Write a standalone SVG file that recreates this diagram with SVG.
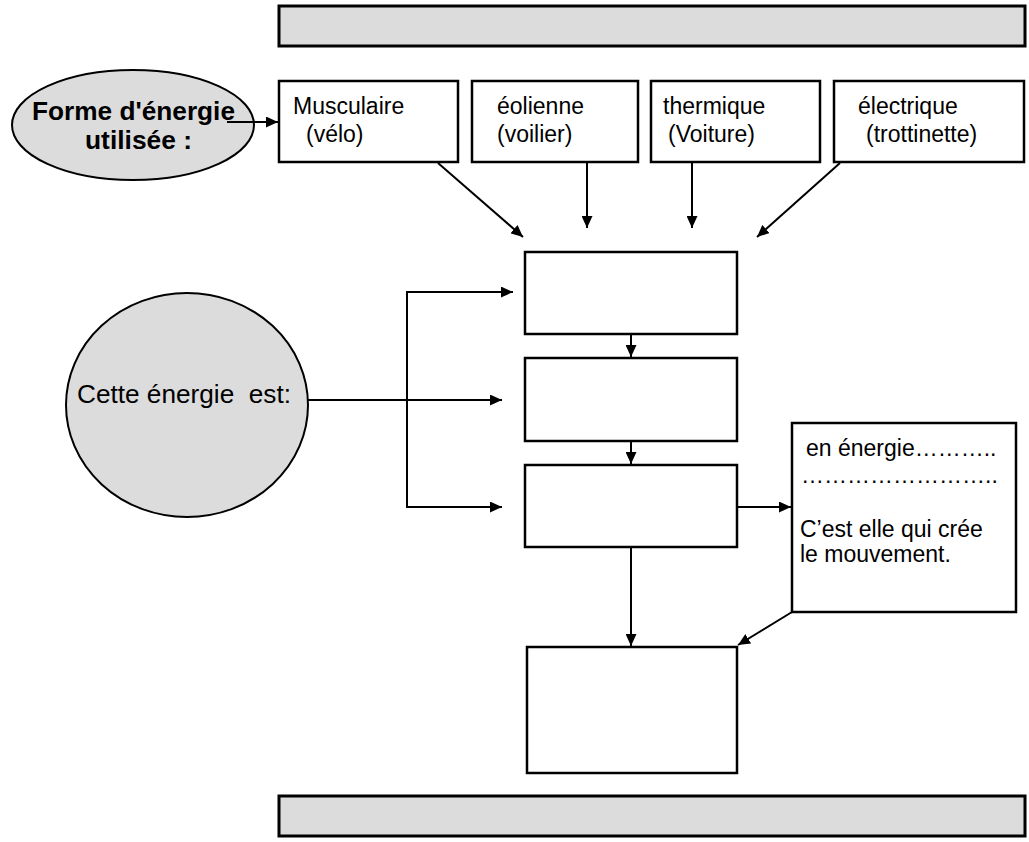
<svg xmlns="http://www.w3.org/2000/svg" width="1029" height="842" viewBox="0 0 1029 842">
<style>
.box{fill:#fff;stroke:#000;stroke-width:2.5}
.grey{fill:#dcdcdc;stroke:#000;stroke-width:2}
.bar{fill:#dcdcdc;stroke:#000;stroke-width:3}
.t{font-family:"Liberation Sans",Arial,sans-serif;font-size:23px;fill:#000}
.b{font-family:"Liberation Sans",Arial,sans-serif;font-size:25px;font-weight:bold;fill:#000}
.c{fill:none;stroke:#000;stroke-width:2}
</style>
<defs>
<marker id="ah" markerUnits="userSpaceOnUse" markerWidth="13" markerHeight="11" refX="12" refY="5.5" orient="auto">
<path d="M0,0 L12,5.5 L0,11 z" fill="#000"/>
</marker>
</defs>
<rect width="1029" height="842" fill="#fff"/>
<g id="top-bar"><rect class="bar" x="279" y="6" width="746" height="40"/></g>
<g id="forme"><ellipse class="grey" cx="133" cy="125" rx="121" ry="55"/>
<text class="b" x="32" y="120" textLength="203" lengthAdjust="spacingAndGlyphs">Forme d'énergie</text>
<text class="b" x="85" y="149" textLength="107" lengthAdjust="spacingAndGlyphs">utilisée :</text></g>
<g id="musculaire"><rect class="box" x="279" y="81" width="179" height="81"/>
<text class="t" x="293" y="114">Musculaire</text><text class="t" x="306" y="142">(vélo)</text></g>
<g id="eolienne"><rect class="box" x="472" y="81" width="166" height="81"/>
<text class="t" x="497" y="114">éolienne</text><text class="t" x="497" y="142">(voilier)</text></g>
<g id="thermique"><rect class="box" x="651" y="81" width="169" height="81"/>
<text class="t" x="663" y="114">thermique</text><text class="t" x="668" y="142">(Voiture)</text></g>
<g id="electrique"><rect class="box" x="834" y="81" width="190" height="81"/>
<text class="t" x="858" y="114">électrique</text><text class="t" x="866" y="142">(trottinette)</text></g>
<g id="cette"><ellipse class="grey" cx="187" cy="405" rx="121" ry="112"/>
<text class="t" x="77" y="403" style="font-size:26px" textLength="214" lengthAdjust="spacingAndGlyphs">Cette énergie&#160; est:</text></g>
<g id="box-a"><rect class="box" x="525" y="252" width="212" height="82"/></g>
<g id="box-b"><rect class="box" x="525" y="358" width="212" height="83"/></g>
<g id="box-c"><rect class="box" x="525" y="465" width="212" height="82"/></g>
<g id="box-d"><rect class="box" x="527" y="647" width="210" height="126"/></g>
<g id="box-energie"><rect class="box" x="792" y="423" width="224" height="189"/>
<text class="t" x="806" y="456">en énergie………..</text>
<text class="t" x="801" y="483">……………………..</text>
<text class="t" x="800" y="537">C’est elle qui crée</text>
<text class="t" x="800" y="562">le mouvement.</text></g>
<g id="bottom-bar"><rect class="bar" x="279" y="796" width="746" height="40"/></g>
<g id="connectors">
<line class="c" x1="227" y1="122" x2="278" y2="122" marker-end="url(#ah)"/>
<line class="c" x1="438" y1="163" x2="523" y2="237" marker-end="url(#ah)"/>
<line class="c" x1="587" y1="162" x2="587" y2="228" marker-end="url(#ah)"/>
<line class="c" x1="692" y1="162" x2="692" y2="228" marker-end="url(#ah)"/>
<line class="c" x1="840" y1="163" x2="757" y2="237" marker-end="url(#ah)"/>
<line class="c" x1="308" y1="400" x2="502" y2="400" marker-end="url(#ah)"/>
<polyline class="c" points="420,292 407,292 407,507 420,507"/>
<line class="c" x1="407" y1="292" x2="513" y2="292" marker-end="url(#ah)"/>
<line class="c" x1="407" y1="507" x2="502" y2="507" marker-end="url(#ah)"/>
<line class="c" x1="631" y1="334" x2="631" y2="357" marker-end="url(#ah)"/>
<line class="c" x1="631" y1="441" x2="631" y2="464" marker-end="url(#ah)"/>
<line class="c" x1="737" y1="507" x2="791" y2="507" marker-end="url(#ah)"/>
<line class="c" x1="631" y1="547" x2="631" y2="646" marker-end="url(#ah)"/>
<line class="c" x1="792" y1="612" x2="738" y2="645" marker-end="url(#ah)"/>
</g>
</svg>
